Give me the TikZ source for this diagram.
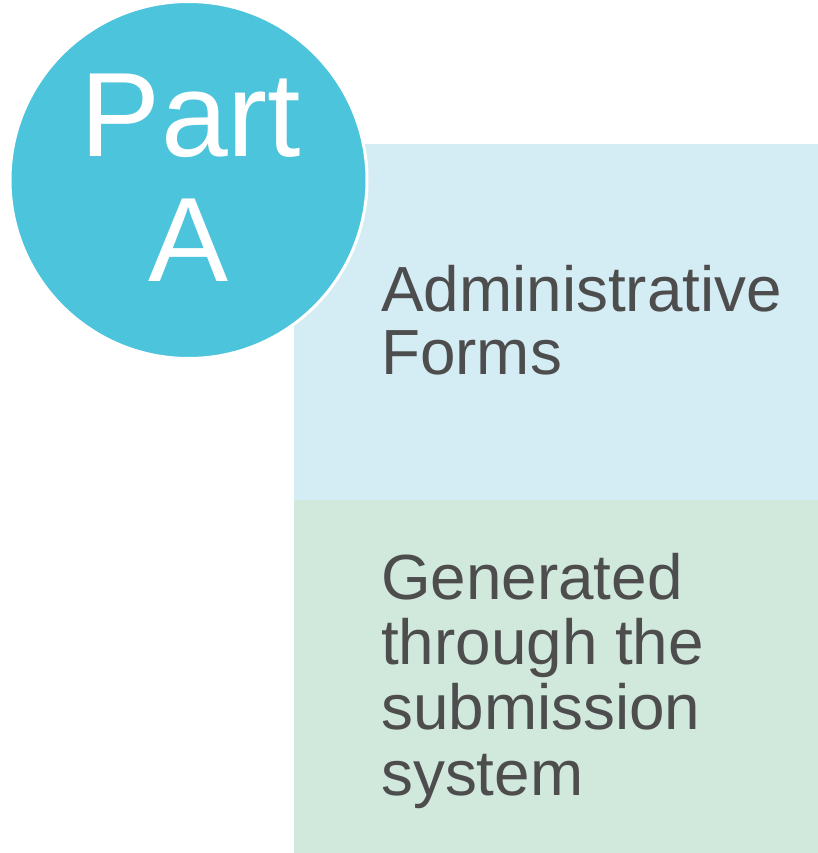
\documentclass[tikz,border=0pt]{standalone}
\usepackage{fontspec}
\setmainfont{Liberation Sans}
\definecolor{circblue}{HTML}{4BC4DC}
\definecolor{paleblue}{HTML}{D4ECF4}
\definecolor{palegreen}{HTML}{D1E8DC}
\definecolor{txtgray}{HTML}{4D4D4D}
\begin{document}
\begin{tikzpicture}[x=1pt,y=1pt,
  bigtxt/.style={inner sep=0pt, text=white, font=\fontsize{120}{124}\selectfont, anchor=base},
  boxtxt/.style={inner sep=0pt, text=txtgray, font=\fontsize{63.8}{65}\selectfont, anchor=base west}]
\useasboundingbox (0,0) rectangle (818,-853);
\fill[paleblue] (294,-144) rectangle (818,-500);
\fill[palegreen] (294,-500) rectangle (818,-853);
\node[circle, fill=circblue, draw=white, line width=3pt, minimum size=357pt, inner sep=0pt] (circ) at (188.5,-180) {};
\node[bigtxt] (part) at (191,-157) {Part};
\node[bigtxt] (partA) at (188.5,-281) {A};
\node[boxtxt] (l1) at (381,-311) {Administrative};
\node[boxtxt] (l2) at (381,-374) {Forms};
\node[boxtxt] (g1) at (381,-599) {Generated};
\node[boxtxt] (g2) at (381,-664) {through the};
\node[boxtxt] (g3) at (381,-729) {submission};
\node[boxtxt] (g4) at (381,-795) {system};
\end{tikzpicture}
\end{document}
